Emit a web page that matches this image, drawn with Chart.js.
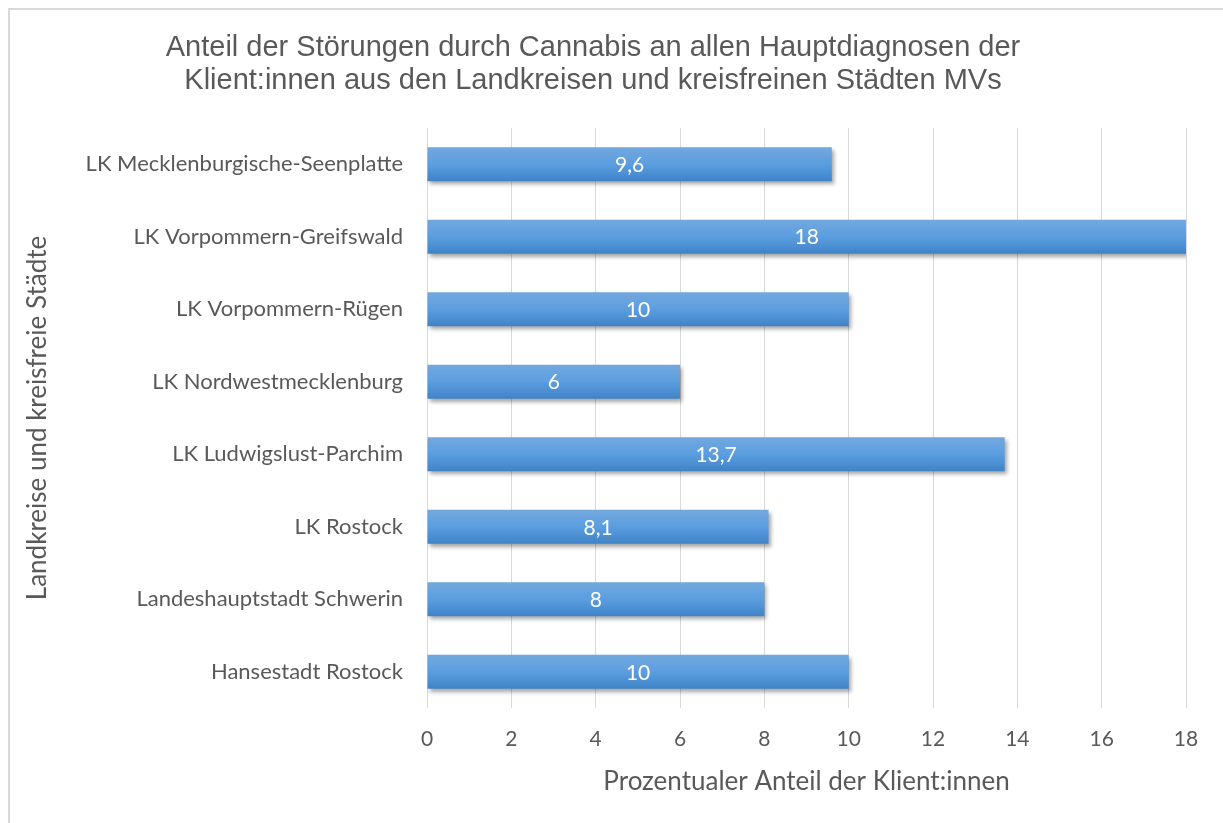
<!DOCTYPE html>
<html lang="de">
<head>
<meta charset="utf-8">
<title>Anteil Cannabis Hauptdiagnosen MV</title>
<script src="https://cdn.jsdelivr.net/npm/chart.js@4/dist/chart.umd.min.js"></script>
<style>
  html, body { margin: 0; padding: 0; background: #fff; }
  #wrap { width: 1223px; height: 823px; position: relative; }
</style>
</head>
<body>
<div id="wrap"><canvas id="chart" width="1223" height="823"></canvas></div>
<script>
// ----------------------
// DATA
// ----------------------
const regions = [
  "LK Mecklenburgische-Seenplatte",
  "LK Vorpommern-Greifswald",
  "LK Vorpommern-Rügen",
  "LK Nordwestmecklenburg",
  "LK Ludwigslust-Parchim",
  "LK Rostock",
  "Landeshauptstadt Schwerin",
  "Hansestadt Rostock",
];
const shares = [9.6, 18, 10, 6, 13.7, 8.1, 8, 10];
const xTicks = [0, 2, 4, 6, 8, 10, 12, 14, 16, 18];

const titleLines = [
  "Anteil der Störungen durch Cannabis an allen Hauptdiagnosen der",
  "Klient:innen aus den Landkreisen und kreisfreinen Städten MVs",
];
const xTitle = "Prozentualer Anteil der Klient:innen";
const yTitle = "Landkreise und kreisfreie Städte";

const grey = "#595959";
const bodyFont = "Lato, 'Open Sans', sans-serif";

// ----------------------
// PLUGINS
// ----------------------
// frame lines (only top + left visible in the original crop)
const framePlugin = {
  id: "frame",
  beforeDraw(chart) {
    const c = chart.ctx;
    c.save();
    c.strokeStyle = "#d9d9d9";
    c.lineWidth = 2;
    c.beginPath();
    c.moveTo(9, chart.height);
    c.lineTo(9, 9);
    c.lineTo(chart.width, 9);
    c.stroke();
    c.restore();
  },
};

// vertical gradient per bar + soft drop shadow
const barStylePlugin = {
  id: "barStyle",
  beforeDatasetDraw(chart, args) {
    const c = chart.ctx;
    args.meta.data.forEach((bar) => {
      const top = bar.y - bar.height / 2;
      const g = c.createLinearGradient(0, top, 0, top + bar.height);
      g.addColorStop(0, "#73a8de");
      g.addColorStop(0.5, "#5b9ee0");
      g.addColorStop(1, "#3f82c6");
      bar.options.backgroundColor = g;
    });
    c.save();
    c.shadowColor = "rgba(0,0,0,0.35)";
    c.shadowBlur = 4;
    c.shadowOffsetX = 2;
    c.shadowOffsetY = 3;
  },
  afterDatasetDraw(chart) {
    chart.ctx.restore();
  },
};

// white value labels centred in each bar
const valueLabelPlugin = {
  id: "valueLabels",
  afterDatasetsDraw(chart) {
    const c = chart.ctx;
    const meta = chart.getDatasetMeta(0);
    c.save();
    c.fillStyle = "#ffffff";
    c.font = "21px " + bodyFont;
    c.textAlign = "center";
    c.textBaseline = "middle";
    meta.data.forEach((bar, i) => {
      const x = (bar.x + bar.base) / 2;
      c.fillText(String(shares[i]).replace(".", ","), x, bar.y + 1);
    });
    c.restore();
  },
};

// ----------------------
// CHART
// ----------------------
new Chart(document.getElementById("chart"), {
  type: "bar",
  data: {
    labels: regions,
    datasets: [
      {
        data: shares,
        // scriptable so every bar gets its own options object (gradient set per bar)
        backgroundColor: () => "#5b9ee0",
        borderWidth: 0,
        categoryPercentage: 1,
        barPercentage: 0.47,
      },
    ],
  },
  options: {
    indexAxis: "y",
    responsive: false,
    animation: false,
    layout: { padding: { top: 0, right: 37, bottom: 0, left: 0 } },
    plugins: {
      legend: { display: false },
      tooltip: { enabled: false },
      title: {
        display: true,
        text: titleLines,
        color: grey,
        font: { family: "'Liberation Sans', Arial, sans-serif", size: 29, weight: "normal", lineHeight: 1.12 },
        padding: { top: 32, bottom: 31 },
      },
    },
    scales: {
      x: {
        min: 0,
        max: 18,
        afterBuildTicks(scale) {
          scale.ticks = xTicks.map((v) => ({ value: v }));
        },
        afterFit(scale) {
          scale.height = 115;
        },
        grid: { color: "#d9d9d9", lineWidth: 1, drawTicks: false },
        border: { display: false },
        ticks: { color: grey, font: { family: bodyFont, size: 21, lineHeight: 1.2 }, padding: 19 },
        title: {
          display: true,
          text: xTitle,
          color: grey,
          font: { family: bodyFont, size: 26, lineHeight: 1.2 },
          padding: { top: 0, bottom: 26 },
        },
      },
      y: {
        afterFit(scale) {
          scale.width = 427;
        },
        grid: { display: false, drawTicks: false },
        border: { display: false },
        ticks: { color: grey, font: { family: bodyFont, size: 22 }, padding: 24 },
        title: {
          display: true,
          text: yTitle,
          color: grey,
          font: { family: bodyFont, size: 26, lineHeight: 1.2 },
          padding: { top: 22 },
        },
      },
    },
  },
  plugins: [framePlugin, barStylePlugin, valueLabelPlugin],
});
</script>
</body>
</html>
